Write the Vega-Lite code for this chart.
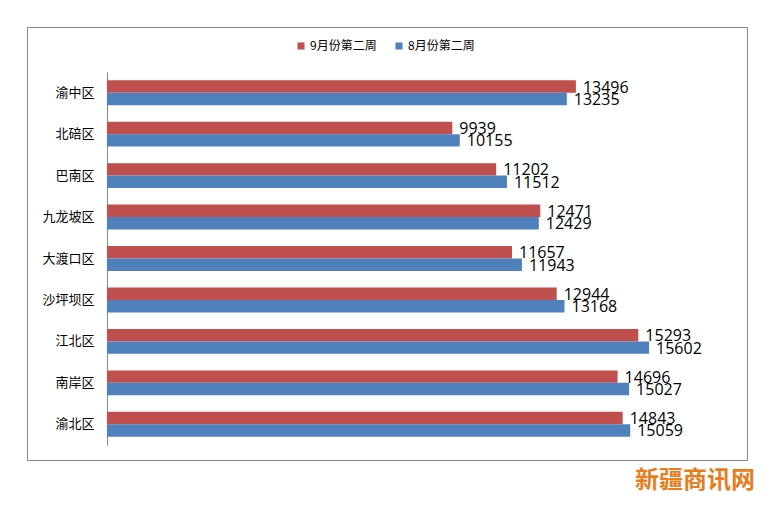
{
  "$schema": "https://vega.github.io/schema/vega-lite/v6.json",
  "width": 720,
  "height": 433,
  "padding": {"left": 27, "top": 27, "right": 10, "bottom": 8},
  "background": "white",
  "title": {
    "text": "新疆商讯网",
    "orient": "bottom",
    "anchor": "end",
    "color": "#E67E1E",
    "fontSize": 24,
    "fontWeight": "bold",
    "font": "Noto Sans CJK SC",
    "offset": 9,
    "dx": 8
  },
  "data": {
    "values": [
      {"district": "渝中区", "series": "9月份第二周", "value": 13496},
      {"district": "渝中区", "series": "8月份第二周", "value": 13235},
      {"district": "北碚区", "series": "9月份第二周", "value": 9939},
      {"district": "北碚区", "series": "8月份第二周", "value": 10155},
      {"district": "巴南区", "series": "9月份第二周", "value": 11202},
      {"district": "巴南区", "series": "8月份第二周", "value": 11512},
      {"district": "九龙坡区", "series": "9月份第二周", "value": 12471},
      {"district": "九龙坡区", "series": "8月份第二周", "value": 12429},
      {"district": "大渡口区", "series": "9月份第二周", "value": 11657},
      {"district": "大渡口区", "series": "8月份第二周", "value": 11943},
      {"district": "沙坪坝区", "series": "9月份第二周", "value": 12944},
      {"district": "沙坪坝区", "series": "8月份第二周", "value": 13168},
      {"district": "江北区", "series": "9月份第二周", "value": 15293},
      {"district": "江北区", "series": "8月份第二周", "value": 15602},
      {"district": "南岸区", "series": "9月份第二周", "value": 14696},
      {"district": "南岸区", "series": "8月份第二周", "value": 15027},
      {"district": "渝北区", "series": "9月份第二周", "value": 14843},
      {"district": "渝北区", "series": "8月份第二周", "value": 15059}
    ]
  },
  "encoding": {
    "y": {
      "field": "district",
      "type": "nominal",
      "sort": ["渝中区", "北碚区", "巴南区", "九龙坡区", "大渡口区", "沙坪坝区", "江北区", "南岸区", "渝北区"],
      "scale": {"range": [45, 418], "paddingInner": 0.4, "paddingOuter": 0.2},
      "axis": {
        "title": null,
        "offset": -80,
        "ticks": false,
        "labelPadding": 13,
        "labelFont": "Noto Sans CJK SC",
        "labelFontSize": 13,
        "labelColor": "#000000",
        "domainColor": "#868686"
      }
    },
    "yOffset": {"field": "series", "sort": ["9月份第二周", "8月份第二周"]},
    "x": {
      "field": "value",
      "type": "quantitative",
      "scale": {"domain": [-2300, 18420]},
      "axis": null
    }
  },
  "layer": [
    {
      "mark": {"type": "bar"},
      "encoding": {
        "color": {
          "field": "series",
          "type": "nominal",
          "scale": {
            "domain": ["9月份第二周", "8月份第二周"],
            "range": ["#C0504D", "#4F81BD"]
          },
          "legend": {
            "title": null,
            "orient": "none",
            "legendX": 268,
            "legendY": 13,
            "direction": "horizontal",
            "symbolType": "square",
            "symbolSize": 50,
            "symbolStrokeWidth": 0,
            "labelFont": "Noto Sans CJK SC",
            "labelFontSize": 12,
            "labelColor": "#000000",
            "labelOffset": 3,
            "columnPadding": 16
          }
        }
      }
    },
    {
      "mark": {
        "type": "text",
        "align": "left",
        "baseline": "middle",
        "dx": 7,
        "dy": 1,
        "font": "Open Sans",
        "fontSize": 16,
        "color": "#000000"
      },
      "encoding": {
        "text": {"field": "value", "type": "quantitative", "format": "d"}
      }
    }
  ],
  "config": {
    "view": {"stroke": "#868686", "strokeWidth": 1}
  }
}
